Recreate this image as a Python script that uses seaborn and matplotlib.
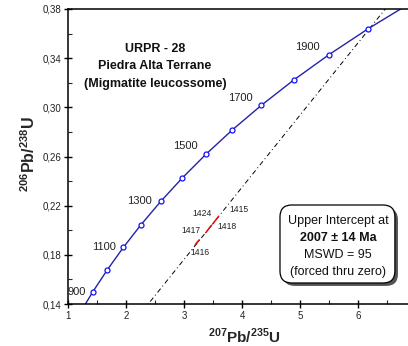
import numpy as np
import seaborn as sns
import matplotlib
matplotlib.use("Agg")
import matplotlib.pyplot as plt
from matplotlib.patches import FancyBboxPatch
from matplotlib.ticker import MultipleLocator, FuncFormatter

# concordia ages (Ma) and ratios
conc_age = [800, 900, 1000, 1100, 1200, 1300, 1400, 1500, 1600, 1700, 1800, 1900, 2000, 2100]
conc_x = [1.1989, 1.4263, 1.6774, 1.9545, 2.2603, 2.5977, 2.9701, 3.3810,
          3.8344, 4.3350, 4.8869, 5.4959, 6.1681, 6.9102]
conc_y = [0.13213, 0.14983, 0.16782, 0.18607, 0.20460, 0.22343, 0.24256, 0.26199,
          0.28172, 0.30176, 0.32211, 0.34278, 0.36377, 0.38509]
marker_ages = [900, 1000, 1100, 1200, 1300, 1400, 1500, 1600, 1700, 1800, 1900, 2000]
labelled_ages = [900, 1100, 1300, 1500, 1700, 1900]

# discordia forced through zero, upper intercept 2007 Ma
disc_x = [0.0, 7.5]
disc_y = [0.0, 0.4406]

# zircon spots
spot_names = ["1416", "1417", "1424", "1418", "1415"]
spot_x = [3.224, 3.400, 3.450, 3.520, 3.570]
spot_y = [0.1900, 0.1996, 0.2026, 0.2067, 0.2097]
spot_sx = [0.040, 0.030, 0.030, 0.030, 0.030]
spot_sy = [0.00240, 0.00180, 0.00180, 0.00180, 0.00180]
spot_rho = [0.97, 0.97, 0.97, 0.97, 0.97]

sns.set_style("ticks")
plt.rcParams["font.family"] = ["Liberation Sans", "DejaVu Sans"]
plt.rcParams["mathtext.fontset"] = "custom"
plt.rcParams["mathtext.rm"] = "Liberation Sans"
plt.rcParams["mathtext.bf"] = "Liberation Sans:bold"

fig = plt.figure(figsize=(4.08, 3.46), dpi=100)
ax = fig.add_axes([68 / 408, 42 / 346, 340 / 408, 295 / 346])

sns.lineplot(x=conc_x, y=conc_y, ax=ax, color="#2323a8", lw=1.0, sort=False, zorder=2)
mx = [conc_x[conc_age.index(a)] for a in marker_ages]
my = [conc_y[conc_age.index(a)] for a in marker_ages]
ax.plot(mx, my, "o", ms=3.6, mfc="white", mec="#1010ff", mew=0.9, zorder=3)

# age labels: offsets in points (right-aligned, left of marker)
age_off = {900: (-5, 0), 1100: (-5, 0), 1300: (-6.5, 0), 1500: (-6, 5.5),
           1700: (-6.5, 5.5), 1900: (-6.5, 5.5)}
for a in labelled_ages:
    i = conc_age.index(a)
    ax.annotate(str(a), (conc_x[i], conc_y[i]), xytext=age_off[a], textcoords="offset points",
                ha="right", va="center", fontsize=8, color="#222222")

ax.plot(disc_x, disc_y, color="black", lw=0.7, ls=(0, (5, 3, 1, 3)), zorder=1)

t = np.linspace(0, 2 * np.pi, 60)
for cx, cy, sx, sy, r in zip(spot_x, spot_y, spot_sx, spot_sy, spot_rho):
    ex = cx + sx * np.cos(t)
    ey = cy + sy * (r * np.cos(t) + np.sqrt(1 - r * r) * np.sin(t))
    ax.fill(ex, ey, color="#e01010", lw=0.6, zorder=4)

spot_off = {"1415": (9, 6.5, "left"), "1424": (1.5, 10, "right"), "1418": (2, -3, "left"),
            "1417": (-4.5, 0, "right"), "1416": (-4.5, -7, "left")}
for n, cx, cy in zip(spot_names, spot_x, spot_y):
    dx, dy, ha = spot_off[n]
    ax.annotate(n, (cx, cy), xytext=(dx, dy), textcoords="offset points",
                ha=ha, va="center", fontsize=6.2, color="#222222")

ax.set_xlim(1, 6.86)
ax.set_ylim(0.14, 0.38)
ax.xaxis.set_major_locator(MultipleLocator(1))
ax.xaxis.set_minor_locator(MultipleLocator(0.5))
ax.yaxis.set_major_locator(MultipleLocator(0.04, offset=0.02))
ax.yaxis.set_minor_locator(MultipleLocator(0.02))
ax.yaxis.set_major_formatter(FuncFormatter(lambda v, p: f"{v:.2f}".replace(".", ",")))
ax.tick_params(which="major", direction="inout", length=6, width=1, labelsize=7, pad=2,
               colors="black", labelcolor="#222222")
ax.tick_params(which="minor", direction="in", length=3, width=0.8)
for s in ["left", "bottom", "top"]:
    ax.spines[s].set_linewidth(1.1)
    ax.spines[s].set_color("black")
ax.spines["right"].set_visible(False)

ax.set_xlabel(r"$^{\mathbf{207}}\mathbf{Pb/}^{\mathbf{235}}\mathbf{U}$", fontsize=11)
ax.set_ylabel(r"$^{\mathbf{206}}\mathbf{Pb/}^{\mathbf{238}}\mathbf{U}$", fontsize=11.5)
ax.xaxis.set_label_coords(0.518, -0.111)
ax.yaxis.set_label_coords(-0.115, 0.508)
ax.xaxis.label.set_va("center")
ax.yaxis.label.set_va("center")

for txt, yy in zip(["URPR - 28", "Piedra Alta Terrane", "(Migmatite leucossome)"],
                   [0.866, 0.807, 0.746]):
    ax.text(0.256, yy, txt, transform=ax.transAxes, ha="center", va="center",
            fontsize=9, fontweight="bold", color="#111111")

# result box with shadow
bx, by, bw, bh = 0.6235, 0.0712, 0.338, 0.2644
shadow = FancyBboxPatch((bx + 0.009, by - 0.010), bw, bh, boxstyle="round,pad=0,rounding_size=0.035",
                        mutation_aspect=340 / 295, transform=ax.transAxes, fc="#555555", ec="none", zorder=5)
box = FancyBboxPatch((bx, by), bw, bh, boxstyle="round,pad=0,rounding_size=0.035",
                     mutation_aspect=340 / 295, transform=ax.transAxes, fc="white", ec="black", lw=0.9, zorder=6)
ax.add_patch(shadow)
ax.add_patch(box)
box_lines = [("Upper Intercept at", "normal"), ("2007 \u00b1 14 Ma", "bold"),
             ("MSWD = 95", "normal"), ("(forced thru zero)", "normal")]
for (txt, w), yy in zip(box_lines, [0.2814, 0.2237, 0.1661, 0.1085]):
    ax.text(0.794, yy, txt, transform=ax.transAxes, ha="center", va="center",
            fontsize=9, fontweight=w, color="#111111", zorder=7)

fig.savefig("out.png", dpi=100)
